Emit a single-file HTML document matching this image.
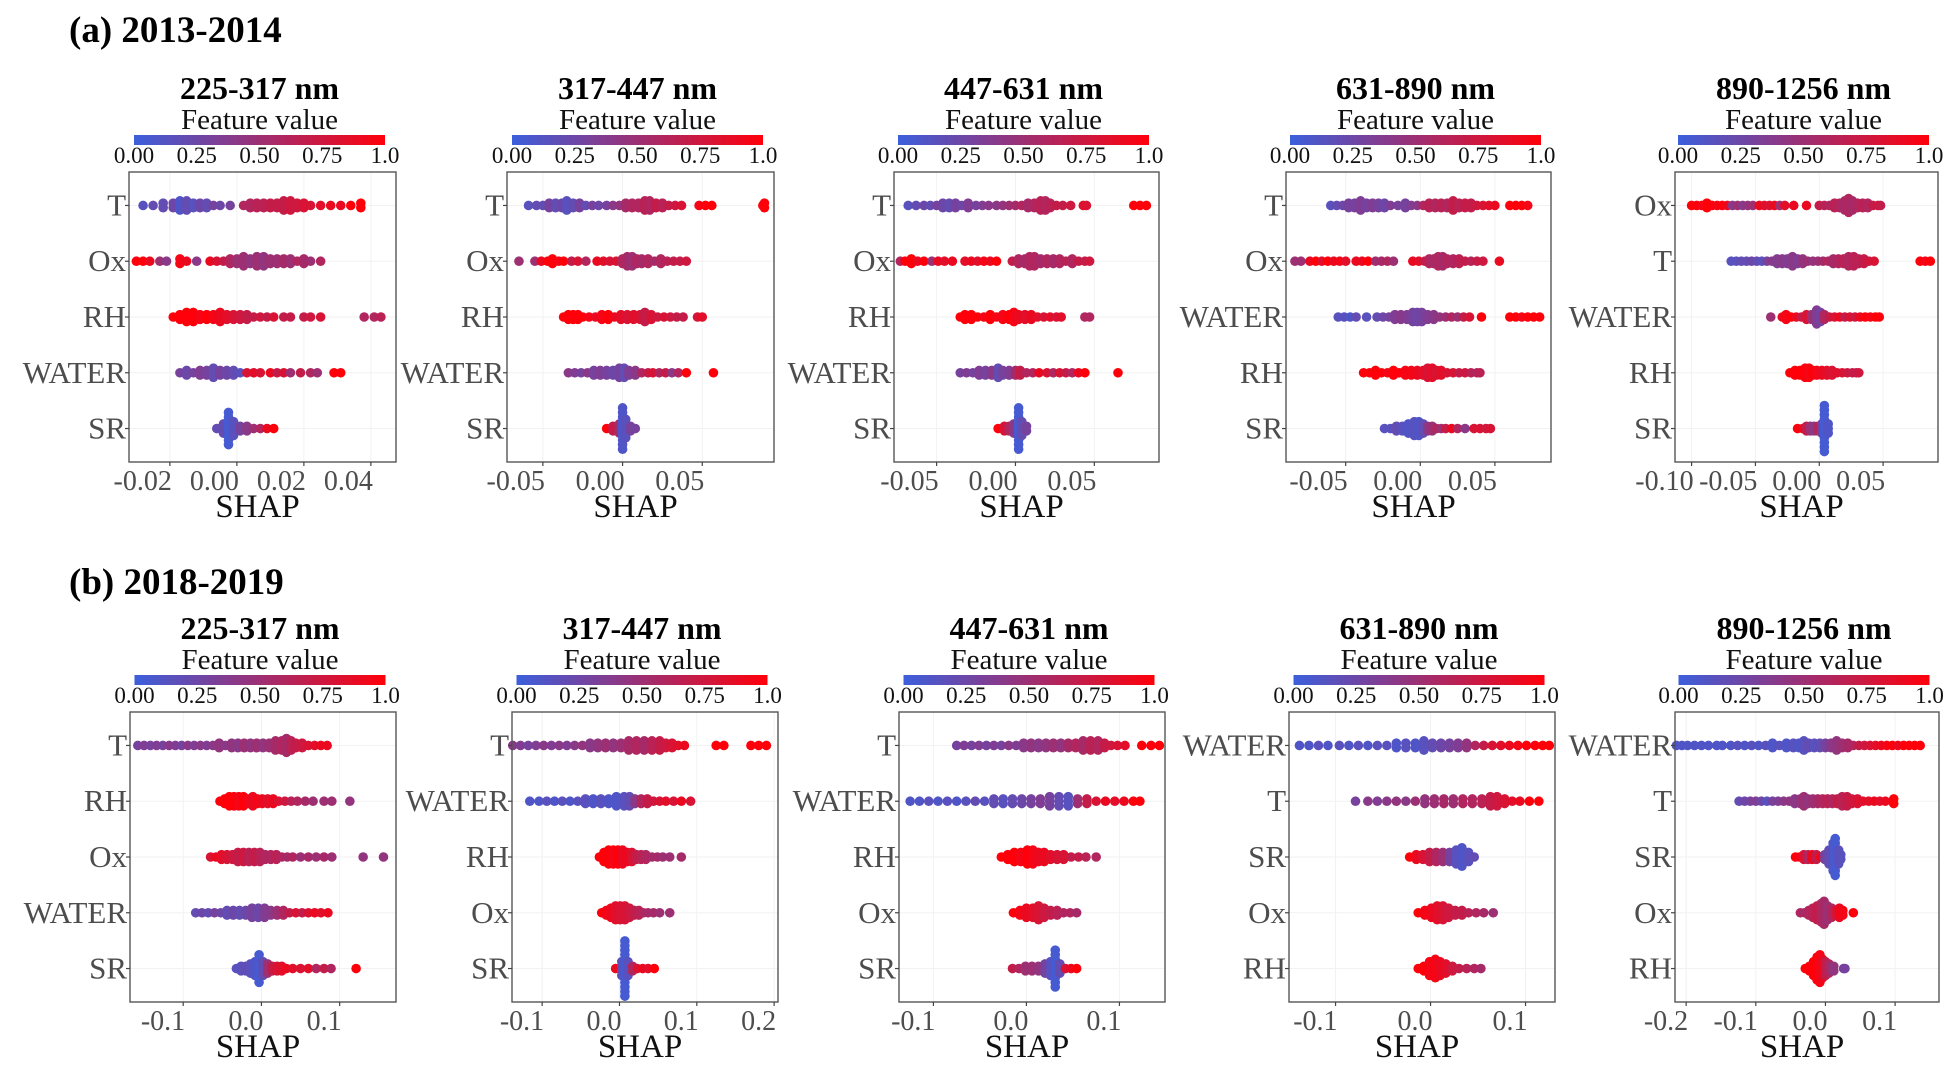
<!DOCTYPE html>
<html><head><meta charset="utf-8">
<style>
html,body{margin:0;padding:0;background:#fff;}
svg{display:block;font-family:"Liberation Serif",serif;}
</style></head>
<body>
<svg id="fig" width="1948" height="1070" viewBox="0 0 1948 1070" xmlns="http://www.w3.org/2000/svg">
<defs>
<linearGradient id="cbar" x1="0" x2="1" y1="0" y2="0">
<stop offset="0" stop-color="rgb(60,95,220)"/>
<stop offset="0.5" stop-color="rgb(157,47,115)"/>
<stop offset="1" stop-color="rgb(255,0,10)"/>
</linearGradient>
</defs>
<text x="69" y="42" font-size="37" font-weight="bold">(a) 2013-2014</text>
<text x="69" y="594" font-size="37" font-weight="bold">(b) 2018-2019</text>
</svg>
<script>
// ---- data: each entry = [SHAP value (x0.001), feature value (0-1), stacked dot count]
const a1_T=[[-28,.15,1],[-25,.2,1],[-22,.2,2],[-19,.25,2],[-17,.1,3],[-15,.2,3],[-13,.15,2],[-11,.25,2],[-9,.2,2],[-7,.3,1],[-5,.25,1],[-2,.3,1],[2,.6,1],[4,.6,2],[6,.65,2],[8,.65,2],[10,.7,2],[12,.7,2],[14,.7,3],[16,.75,3],[18,.75,2],[20,.8,2],[22,.8,1],[25,.85,1],[28,.9,1],[31,.9,1],[34,1,1],[37,1,2]];
const a1_Ox=[[-30,1,1],[-28,1,1],[-26,.9,1],[-23,.5,1],[-21,.4,1],[-17,.95,2],[-15,.9,1],[-12,.4,1],[-8,.9,1],[-6,.8,1],[-4,.7,1],[-2,.6,2],[0,.5,2],[2,.5,3],[4,.45,2],[6,.5,3],[8,.45,3],[10,.5,2],[12,.5,2],[14,.55,2],[16,.5,2],[18,.6,1],[20,.55,2],[22,.5,1],[25,.6,1]];
const a1_RH=[[-19,1,1],[-17,1,2],[-15,1,3],[-13,1,3],[-11,.95,2],[-9,1,2],[-7,.95,2],[-5,.9,3],[-3,.85,2],[-1,.8,2],[1,.75,2],[3,.7,2],[5,.7,1],[7,.75,1],[9,.7,1],[11,.8,1],[14,.7,1],[16,.7,1],[20,.7,1],[22,.75,1],[25,.8,1],[38,.6,1],[41,.6,1],[43,.65,1]];
const a1_WATER=[[-17,.3,1],[-15,.25,2],[-13,.3,1],[-11,.35,2],[-9,.3,2],[-7,.2,3],[-5,.3,2],[-3,.25,2],[-1,.2,2],[1,.15,1],[3,.8,1],[5,.85,1],[7,.8,1],[10,.9,1],[12,.7,1],[14,.8,1],[16,.5,1],[19,.7,1],[22,.6,1],[24,.5,1],[29,1,1],[31,1,1]];
const a1_SR=[[-6,.2,1],[-4,.2,3],[-2.5,.05,8],[-1,.15,4],[1,.3,2],[3,.4,2],[5,.5,1],[7,.6,1],[9,.9,1],[11,1,1]];

const a2_T=[[-59,.15,1],[-54,.2,1],[-50,.2,1],[-46,.3,2],[-42,.2,2],[-38,.25,2],[-35,.15,3],[-31,.2,2],[-27,.3,2],[-23,.2,1],[-19,.3,1],[-15,.25,1],[-10,.3,1],[-6,.4,1],[-2,.45,1],[2,.55,2],[6,.6,2],[10,.6,2],[14,.65,3],[17,.6,3],[21,.7,2],[25,.65,2],[29,.7,1],[33,.75,1],[37,.8,1],[48,.95,1],[52,1,1],[56,1,1],[88,1,1],[89,1,2]];
const a2_Ox=[[-65,.5,1],[-55,.5,1],[-51,.9,1],[-47,1,1],[-44,1,2],[-40,.95,1],[-37,1,1],[-32,.7,1],[-28,.8,1],[-23,.6,1],[-16,.9,1],[-12,.85,1],[-8,.8,1],[-4,.8,1],[0,.6,2],[3,.55,3],[6,.5,3],[9,.6,2],[12,.55,2],[16,.6,2],[20,.55,1],[24,.6,2],[28,.65,1],[32,.7,1],[36,.7,1],[40,.75,1]];
const a2_RH=[[-37,1,1],[-34,1,2],[-31,1,2],[-28,1,2],[-25,1,1],[-21,.95,1],[-17,.9,1],[-13,.95,2],[-9,1,2],[-5,.9,1],[-1,.85,2],[3,.8,2],[7,.85,2],[11,.8,2],[14,.7,3],[18,.8,2],[22,.75,1],[26,.8,1],[30,.75,1],[34,.7,1],[38,.7,1],[47,.8,1],[50,.85,1]];
const a2_WATER=[[-34,.4,1],[-30,.35,1],[-26,.3,1],[-22,.4,1],[-18,.3,2],[-14,.35,2],[-10,.3,2],[-6,.25,2],[-2,.3,3],[1,.2,3],[4,.35,2],[8,.4,2],[12,.6,1],[16,.7,1],[19,.8,1],[23,.6,1],[27,.7,1],[31,.4,1],[35,.6,1],[40,1,1],[57,1,1]];
const a2_SR=[[-10,1,1],[-6,.7,2],[-2,.5,3],[0,.1,10],[2,.15,5],[5,.3,2],[8,.3,1]];

const a3_T=[[-68,.15,1],[-63,.2,1],[-58,.25,1],[-54,.2,1],[-50,.3,1],[-46,.25,2],[-42,.2,2],[-38,.3,2],[-34,.25,1],[-30,.35,2],[-25,.3,1],[-21,.35,1],[-17,.4,1],[-12,.4,1],[-8,.45,1],[-4,.5,1],[0,.55,1],[4,.6,1],[8,.55,2],[12,.6,2],[16,.65,3],[19,.6,3],[22,.65,2],[26,.7,1],[30,.7,1],[35,.75,1],[43,.85,1],[45,.8,1],[75,1,1],[79,1,1],[83,1,1]];
const a3_Ox=[[-73,.6,1],[-70,1,1],[-66,1,2],[-62,.9,1],[-58,1,1],[-53,.5,1],[-49,.9,1],[-45,.85,1],[-40,.9,1],[-32,.85,1],[-28,.9,1],[-24,.85,1],[-20,.95,1],[-16,.9,1],[-12,1,1],[-2,.7,1],[2,.6,2],[6,.55,2],[9,.6,3],[12,.6,3],[16,.55,2],[20,.6,2],[24,.55,2],[28,.6,2],[32,.65,1],[36,.6,2],[40,.7,1],[44,.7,1],[47,.75,1]];
const a3_RH=[[-35,1,1],[-32,1,2],[-28,1,2],[-24,1,1],[-20,.95,1],[-16,1,2],[-12,.95,1],[-8,.95,2],[-4,1,2],[-1,.95,3],[2,.9,2],[6,.85,2],[10,.9,2],[14,.85,1],[18,.8,1],[22,.85,1],[26,.8,1],[29,.85,1],[44,.6,1],[47,.6,1]];
const a3_WATER=[[-35,.3,1],[-31,.35,1],[-27,.3,1],[-23,.35,2],[-19,.3,2],[-15,.4,2],[-11,.2,3],[-8,.3,2],[-4,.35,2],[0,.55,2],[3,.7,2],[7,.6,1],[11,.6,1],[15,.9,1],[20,.8,1],[24,.6,1],[28,.8,1],[32,.7,1],[36,.6,1],[40,.9,1],[44,1,1],[65,1,1]];
const a3_SR=[[-11,1,1],[-7,.8,2],[-4,.6,2],[-1,.4,3],[2,.05,10],[4,.2,4],[7,.3,2]];

const a4_T=[[-60,.15,1],[-56,.2,1],[-52,.25,1],[-48,.3,2],[-44,.3,2],[-40,.35,3],[-36,.3,2],[-32,.35,2],[-28,.3,2],[-24,.25,2],[-20,.35,1],[-15,.3,1],[-10,.3,2],[-6,.35,1],[-2,.4,1],[2,.6,1],[6,.65,2],[10,.6,2],[14,.65,2],[18,.6,2],[22,.7,3],[26,.65,2],[30,.7,2],[34,.7,2],[38,.75,1],[42,.8,1],[46,.85,1],[50,.9,1],[60,1,1],[64,1,1],[68,1,1],[72,.95,1]];
const a4_Ox=[[-84,.5,1],[-80,.5,1],[-74,.9,1],[-70,1,1],[-66,.85,1],[-62,1,1],[-58,.9,1],[-54,.95,1],[-50,.85,1],[-43,.9,1],[-39,.9,1],[-35,1,1],[-30,.5,1],[-26,.55,1],[-22,.6,1],[-18,.5,1],[-5,.9,1],[-1,.85,1],[3,.7,1],[6,.6,2],[9,.55,2],[12,.6,3],[15,.55,3],[18,.6,2],[22,.6,2],[26,.65,2],[30,.7,1],[34,.65,1],[38,.7,1],[42,.75,1],[53,.9,1]];
const a4_WATER=[[-55,.15,1],[-51,.15,1],[-47,.1,1],[-43,.2,1],[-36,.15,1],[-29,.2,1],[-25,.25,1],[-21,.3,1],[-17,.35,2],[-13,.4,2],[-9,.35,2],[-5,.3,3],[-2,.25,3],[1,.3,3],[5,.35,2],[9,.4,2],[13,.45,1],[17,.5,1],[21,.6,1],[25,.5,1],[29,.7,1],[33,.8,1],[41,1,1],[60,1,1],[64,1,1],[68,.95,1],[72,1,1],[76,1,1],[80,1,1]];
const a4_RH=[[-38,1,1],[-34,1,1],[-30,1,2],[-26,1,1],[-22,.95,1],[-18,1,2],[-14,1,1],[-10,.95,2],[-6,.95,2],[-2,.9,2],[2,.85,2],[5,.8,3],[8,.85,3],[11,.8,2],[14,.85,2],[18,.8,1],[22,.8,1],[26,.7,1],[30,.75,1],[34,.65,1],[38,.6,1],[40,.65,1]];
const a4_SR=[[-24,.15,1],[-20,.15,1],[-16,.2,2],[-12,.15,2],[-8,.1,3],[-4,.15,4],[-1,.1,4],[2,.2,3],[5,.4,2],[8,.5,2],[11,.6,1],[14,.5,1],[17,.7,1],[21,.9,1],[25,.6,1],[30,.4,1],[36,.8,1],[40,.8,1],[44,.75,1],[47,.8,1]];

const a5_Ox=[[-100,1,1],[-96,1,1],[-92,.95,1],[-88,1,2],[-84,1,1],[-80,.95,1],[-76,1,1],[-72,.9,1],[-68,.4,1],[-64,.5,1],[-60,.4,1],[-56,.45,1],[-52,.5,1],[-47,.9,1],[-43,.85,1],[-39,.8,1],[-35,.9,1],[-31,.5,1],[-27,.85,1],[-20,.9,1],[-10,.9,1],[0,.7,1],[4,.65,1],[8,.6,1],[12,.65,2],[16,.6,2],[20,.55,3],[23,.6,4],[26,.55,3],[30,.6,2],[34,.65,2],[38,.6,2],[42,.7,1],[46,.75,1],[48,.7,1]];
const a5_T=[[-69,.15,1],[-65,.15,1],[-61,.2,1],[-57,.2,1],[-53,.25,1],[-49,.2,1],[-45,.15,1],[-41,.3,1],[-37,.4,1],[-33,.35,2],[-29,.4,2],[-25,.35,2],[-21,.4,3],[-17,.35,2],[-13,.45,2],[-9,.5,1],[-5,.45,1],[-1,.5,1],[3,.55,1],[7,.6,1],[11,.55,2],[15,.6,2],[19,.65,2],[23,.6,3],[27,.65,3],[31,.65,2],[35,.7,2],[39,.75,1],[43,.8,1],[79,1,1],[83,.95,1],[87,1,1]];
const a5_WATER=[[-38,.5,1],[-29,.9,1],[-26,.95,2],[-22,1,1],[-18,.9,1],[-14,.7,1],[-10,.8,2],[-6,.5,2],[-2,.35,4],[1,.3,3],[4,.6,2],[8,.7,1],[12,.8,1],[16,.9,1],[20,.7,1],[24,.8,1],[28,.75,1],[32,.9,1],[36,1,1],[40,.95,1],[44,1,1],[47,1,1]];
const a5_RH=[[-23,1,1],[-19,1,2],[-15,1,2],[-11,1,3],[-8,.95,3],[-5,1,2],[-2,.95,2],[2,.9,2],[6,.85,2],[10,.8,2],[14,.85,1],[18,.8,1],[22,.75,1],[26,.7,1],[29,.7,1],[31,.75,1]];
const a5_SR=[[-17,1,1],[-13,.9,1],[-10,.7,2],[-7,.5,2],[-4,.4,2],[-1,.6,2],[2,.3,3],[4,.05,11],[7,.1,3]];

const b1_T=[[-158,.3,1],[-150,.35,1],[-142,.3,1],[-134,.35,1],[-126,.3,1],[-118,.4,1],[-110,.35,1],[-102,.3,1],[-94,.4,1],[-86,.35,1],[-78,.4,1],[-70,.35,1],[-62,.4,1],[-54,.45,2],[-46,.4,1],[-38,.45,2],[-30,.4,2],[-22,.5,2],[-14,.45,2],[-6,.5,2],[2,.45,2],[10,.5,2],[18,.55,3],[26,.6,3],[32,.55,4],[38,.65,3],[44,.7,2],[52,.75,2],[60,.8,1],[68,.85,1],[76,.9,1],[84,.9,1]];
const b1_RH=[[-53,1,1],[-47,1,2],[-41,1,3],[-35,1,3],[-29,.95,3],[-23,1,3],[-17,.95,2],[-11,.9,3],[-5,.95,2],[1,.9,2],[8,.85,2],[15,.9,2],[22,.8,1],[30,.75,1],[38,.65,1],[46,.6,1],[56,.55,1],[66,.5,1],[80,.5,1],[90,.5,1],[113,.45,1]];
const b1_Ox=[[-65,.8,1],[-58,.9,1],[-51,.85,2],[-44,.8,2],[-37,.75,2],[-30,.7,3],[-23,.75,3],[-16,.65,3],[-9,.7,3],[-2,.65,3],[5,.6,2],[12,.6,2],[19,.65,2],[26,.6,1],[33,.55,1],[40,.6,1],[50,.5,1],[60,.55,1],[70,.5,1],[80,.55,1],[90,.5,1],[130,.45,1],[156,.45,1]];
const b1_WATER=[[-84,.2,1],[-76,.25,1],[-68,.2,1],[-60,.3,1],[-52,.25,1],[-44,.2,2],[-36,.25,2],[-28,.2,2],[-20,.25,2],[-12,.3,3],[-4,.25,3],[4,.35,3],[12,.4,2],[20,.5,2],[28,.6,2],[36,.7,1],[44,.8,1],[52,.7,1],[60,.8,1],[68,.9,1],[76,.85,1],[85,.9,1]];
const b1_SR=[[-32,.15,1],[-26,.15,2],[-20,.2,2],[-14,.15,3],[-8,.1,4],[-3,.05,7],[2,.2,4],[8,.5,3],[14,.7,2],[20,.8,2],[26,.85,2],[32,.9,1],[40,.85,1],[50,.8,1],[60,.85,1],[70,.6,1],[80,.7,1],[89,.6,1],[121,1,1]];

const b2_T=[[-138,.4,1],[-128,.35,1],[-118,.3,1],[-108,.35,1],[-98,.4,1],[-88,.35,1],[-78,.4,1],[-68,.35,1],[-58,.4,1],[-48,.45,1],[-38,.4,2],[-28,.45,2],[-18,.5,2],[-8,.45,2],[2,.5,2],[12,.55,3],[22,.6,3],[32,.55,3],[42,.65,3],[52,.7,3],[60,.75,2],[68,.8,2],[76,.85,1],[84,.9,1],[125,1,1],[135,1,1],[170,1,1],[180,1,1],[190,1,1]];
const b2_WATER=[[-116,.1,1],[-104,.1,1],[-94,.15,1],[-84,.1,1],[-74,.15,1],[-64,.1,1],[-54,.15,1],[-44,.15,2],[-34,.1,2],[-24,.15,2],[-14,.1,2],[-4,.1,3],[6,.15,3],[13,.2,3],[20,.4,2],[28,.6,2],[36,.7,2],[44,.75,1],[52,.8,1],[60,.85,1],[70,.8,1],[80,.9,1],[92,.8,1]];
const b2_RH=[[-26,1,1],[-20,1,3],[-14,1,4],[-8,.95,4],[-2,1,4],[4,.9,4],[10,.9,3],[16,.8,3],[22,.7,2],[28,.65,2],[34,.6,2],[42,.55,1],[49,.55,1],[56,.5,1],[65,.5,1],[80,.55,1]];
const b2_Ox=[[-23,1,1],[-17,.95,2],[-11,.9,3],[-5,.85,4],[1,.8,4],[7,.8,4],[13,.75,3],[19,.7,2],[25,.65,2],[31,.6,1],[37,.55,1],[44,.55,1],[52,.5,1],[65,.5,1]];
const b2_SR=[[-5,.9,1],[3,.2,4],[7,.05,13],[11,.15,4],[17,.6,2],[23,.8,1],[30,.9,1],[37,.85,1],[45,1,1]];

const b3_T=[[-75,.3,1],[-67,.35,1],[-59,.3,1],[-51,.35,1],[-43,.3,1],[-35,.35,1],[-27,.3,1],[-19,.4,1],[-11,.35,1],[-3,.4,2],[5,.45,2],[13,.4,2],[21,.45,2],[29,.5,2],[37,.45,2],[45,.55,2],[53,.6,2],[61,.55,3],[69,.65,3],[77,.6,3],[84,.7,2],[91,.75,1],[98,.8,1],[106,.85,1],[124,1,1],[134,1,1],[143,1,1]];
const b3_WATER=[[-125,.1,1],[-115,.1,1],[-105,.15,1],[-95,.1,1],[-85,.15,1],[-75,.1,1],[-65,.15,1],[-55,.2,1],[-45,.15,1],[-35,.2,2],[-25,.15,2],[-15,.2,2],[-5,.25,2],[5,.3,2],[15,.35,2],[25,.3,3],[35,.2,3],[45,.15,3],[55,.5,2],[65,.7,2],[75,.8,1],[85,.9,1],[95,.85,1],[105,.9,1],[115,1,1],[122,1,1]];
const b3_RH=[[-27,1,1],[-20,1,2],[-13,1,3],[-6,.95,3],[1,1,4],[7,.95,4],[13,.9,3],[19,.9,3],[26,.85,2],[33,.8,2],[40,.8,2],[48,.7,1],[56,.7,1],[64,.65,1],[75,.6,1]];
const b3_Ox=[[-14,1,1],[-7,.95,2],[0,.9,3],[7,.85,3],[13,.8,4],[19,.75,3],[26,.7,2],[33,.65,2],[40,.6,1],[47,.6,1],[54,.55,1]];
const b3_SR=[[-15,.7,1],[-8,.6,1],[-1,.5,2],[6,.5,2],[13,.45,2],[20,.3,3],[26,.15,4],[31,.05,9],[36,.2,3],[42,.8,1],[48,.9,1],[54,1,1]];

const b4_WATER=[[-138,.1,1],[-128,.1,1],[-118,.15,1],[-108,.1,1],[-96,.15,1],[-86,.1,1],[-76,.15,1],[-66,.1,1],[-56,.15,1],[-46,.15,1],[-36,.1,2],[-26,.15,2],[-16,.1,2],[-7,.15,3],[2,.2,2],[11,.25,2],[20,.3,2],[29,.35,2],[38,.45,2],[47,.6,1],[56,.7,1],[65,.8,1],[74,.85,1],[83,.9,1],[92,.95,1],[101,1,1],[110,1,1],[118,1,1],[125,1,1]];
const b4_T=[[-79,.3,1],[-66,.4,1],[-56,.35,1],[-46,.4,1],[-36,.45,1],[-26,.4,1],[-16,.5,1],[-6,.45,2],[4,.5,2],[14,.55,2],[24,.5,2],[34,.6,2],[44,.6,2],[54,.65,2],[63,.7,3],[70,.75,3],[78,.8,2],[86,.85,1],[94,.9,1],[104,1,1],[114,1,1]];
const b4_SR=[[-22,1,1],[-15,.9,2],[-8,.8,2],[-1,.7,3],[6,.6,3],[13,.5,3],[20,.3,3],[27,.15,4],[33,.1,5],[40,.15,3],[46,.2,1]];
const b4_Ox=[[-13,1,1],[-6,.95,2],[1,.9,3],[7,.85,4],[13,.8,4],[19,.75,3],[26,.7,2],[33,.7,2],[40,.65,1],[48,.6,1],[56,.55,1],[66,.5,1]];
const b4_RH=[[-13,1,1],[-7,1,2],[-1,.95,4],[5,.95,5],[10,.9,4],[16,.85,3],[23,.75,2],[30,.7,1],[38,.65,1],[46,.6,1],[53,.55,1]];

const b5_WATER=[[-214,.1,1],[-206,.1,1],[-198,.1,1],[-188,.1,1],[-178,.1,1],[-168,.1,1],[-156,.1,1],[-148,.1,1],[-136,.1,1],[-126,.15,1],[-116,.1,1],[-106,.15,1],[-96,.1,1],[-86,.15,1],[-76,.1,2],[-66,.15,1],[-56,.1,2],[-46,.15,2],[-38,.1,2],[-31,.15,3],[-24,.2,2],[-16,.15,2],[-8,.2,2],[0,.3,2],[8,.4,2],[16,.45,3],[24,.5,2],[32,.55,2],[40,.6,1],[48,.7,1],[56,.75,1],[64,.8,1],[72,.85,1],[80,.9,1],[88,.95,1],[96,1,1],[104,.9,1],[112,1,1],[120,1,1],[128,1,1],[136,1,1]];
const b5_T=[[-124,.2,1],[-116,.25,1],[-108,.3,1],[-100,.35,1],[-92,.25,1],[-84,.15,1],[-76,.3,1],[-68,.35,1],[-60,.4,1],[-52,.45,1],[-44,.4,2],[-36,.45,2],[-31,.5,3],[-25,.45,2],[-18,.5,2],[-11,.55,2],[-4,.6,2],[3,.65,2],[10,.6,2],[17,.7,2],[24,.65,3],[31,.7,3],[38,.75,2],[46,.8,2],[54,.85,1],[62,.85,1],[70,.9,1],[78,.85,1],[86,.9,1],[98,1,2]];
const b5_SR=[[-43,1,1],[-37,.95,1],[-31,.8,2],[-25,.6,2],[-19,.9,2],[-13,.7,2],[-7,.9,1],[-1,.3,2],[5,.2,4],[11,.1,7],[14,.05,9],[19,.15,4],[22,.15,2]];
const b5_Ox=[[-36,.6,1],[-30,.55,1],[-24,.6,2],[-18,.65,3],[-12,.7,4],[-6,.6,5],[-2,.55,6],[3,.5,4],[9,.6,3],[15,.8,2],[20,.9,3],[25,.95,2],[40,1,1]];
const b5_RH=[[-29,1,1],[-23,1,2],[-17,1,4],[-12,1,6],[-8,.95,7],[-4,.9,5],[0,.7,4],[5,.6,3],[9,.5,2],[12,.45,2],[26,.3,1],[28,.3,1]];

// ---- categories (features, top to bottom) and panel titles
const titlesRow = ["225-317 nm","317-447 nm","447-631 nm","631-890 nm","890-1256 nm"];
const featA = [["T","Ox","RH","WATER","SR"],["T","Ox","RH","WATER","SR"],["T","Ox","RH","WATER","SR"],["T","Ox","WATER","RH","SR"],["Ox","T","WATER","RH","SR"]];
const featB = [["T","RH","Ox","WATER","SR"],["T","WATER","RH","Ox","SR"],["T","WATER","RH","Ox","SR"],["WATER","T","SR","Ox","RH"],["WATER","T","SR","Ox","RH"]];
const rowsA = [[a1_T,a1_Ox,a1_RH,a1_WATER,a1_SR],[a2_T,a2_Ox,a2_RH,a2_WATER,a2_SR],[a3_T,a3_Ox,a3_RH,a3_WATER,a3_SR],[a4_T,a4_Ox,a4_WATER,a4_RH,a4_SR],[a5_Ox,a5_T,a5_WATER,a5_RH,a5_SR]];
const rowsB = [[b1_T,b1_RH,b1_Ox,b1_WATER,b1_SR],[b2_T,b2_WATER,b2_RH,b2_Ox,b2_SR],[b3_T,b3_WATER,b3_RH,b3_Ox,b3_SR],[b4_WATER,b4_T,b4_SR,b4_Ox,b4_RH],[b5_WATER,b5_T,b5_SR,b5_Ox,b5_RH]];
// ---- tick values
const ticksA = [[-0.02,0,0.02,0.04],[-0.05,0,0.05],[-0.05,0,0.05],[-0.05,0,0.05],[-0.10,-0.05,0,0.05]];
const tickLabA = [["-0.02","0.00","0.02","0.04"],["-0.05","0.00","0.05"],["-0.05","0.00","0.05"],["-0.05","0.00","0.05"],["-0.10","-0.05","0.00","0.05"]];
const ticksB = [[-0.1,0,0.1],[-0.1,0,0.1,0.2],[-0.1,0,0.1],[-0.1,0,0.1],[-0.2,-0.1,0,0.1]];
const tickLabB = [["-0.1","0.0","0.1"],["-0.1","0.0","0.1","0.2"],["-0.1","0.0","0.1"],["-0.1","0.0","0.1"],["-0.2","-0.1","0.0","0.1"]];
const domainsA = [[-0.0322,0.0475],[-0.0725,0.095],[-0.077,0.091],[-0.090,0.0876],[-0.113,0.093]];
const domainsB = [[-0.168,0.172],[-0.139,0.205],[-0.137,0.149],[-0.149,0.131],[-0.216,0.163]];
const cbTicks = [0,0.25,0.5,0.75,1];
const cbLabels = ["0.00","0.25","0.50","0.75","1.0"];

// ---- layout (geometry)
const boxesA = [[129,396],[507,774],[894,1159],[1286,1551],[1675,1938]];
const boxesB = [[130,396],[512,778],[899,1165],[1289,1555],[1675,1939]];
const NS="http://www.w3.org/2000/svg";
const svg=document.getElementById('fig');
function mk(tag,attrs,parent){const e=document.createElementNS(NS,tag);for(const k in attrs)e.setAttribute(k,attrs[k]);(parent||svg).appendChild(e);return e;}
function colorOf(v){
  const a=[60,95,220],m=[157,47,115],b=[255,0,10];
  let c;
  if(v<=0.5){const t=v/0.5;c=a.map((x,i)=>Math.round(x+(m[i]-x)*t));}
  else{const t=(v-0.5)/0.5;c=m.map((x,i)=>Math.round(x+(b[i]-x)*t));}
  return 'rgb('+c.join(',')+')';
}
function panel(idx,row,box,dom,feats,rows,ticks,tlabs,top,prefix){
  const g=mk('g',{});
  
  
  const x0=box[0],x1=box[1],y0=top,y1=top+290;
  const sx=v=>x0+(v-dom[0])/(dom[1]-dom[0])*(x1-x0);
  const unit=(y1-y0)/5.2;
  const sy=i=>y0+(0.6+i)*unit;
  const cx=(x0+x1)/2-3;
  const t=mk('text',{x:cx,y:top-73,'font-size':32,'font-weight':'bold','text-anchor':'middle'},g);
  t.textContent=titlesRow[idx];
  
  
  const fv=mk('text',{x:cx,y:top-43,'font-size':29,'text-anchor':'middle',fill:'#111'},g);
  fv.textContent='Feature value';
  
  
  const cbw=251,cbx=cx-cbw/2;
  const cb=mk('rect',{x:cbx,y:top-37,width:cbw,height:10,fill:'url(#cbar)'},g);
  
  
  cbTicks.forEach((v,i)=>{
    const l=mk('text',{x:cbx+v*cbw,y:top-9,'font-size':23,'text-anchor':'middle',fill:'#111'},g);
    l.textContent=cbLabels[i];
    
    
  });
  ticks.forEach(v=>{mk('line',{x1:sx(v),x2:sx(v),y1:y0,y2:y1,stroke:'#f2f2f2','stroke-width':1},g);});
  feats.forEach((f,i)=>{mk('line',{x1:x0,x2:x1,y1:sy(i),y2:sy(i),stroke:'#f2f2f2','stroke-width':1},g);});
  rows.forEach((r,i)=>{
    const yc=sy(i);
    r.forEach(p=>{
      const n=p[2];
      for(let k=0;k<n;k++){
        const off=(k-(n-1)/2)*4.6;
        const c=mk('circle',{cx:sx(p[0]/1000),cy:yc+off,r:4.8,fill:colorOf(p[1])},g);
        
        
      }
    });
  });
  const fr=mk('rect',{x:x0,y:y0,width:x1-x0,height:y1-y0,fill:'none',stroke:'#555','stroke-width':1.4},g);
  
  
  feats.forEach((f,i)=>{
    mk('line',{x1:x0-4,x2:x0,y1:sy(i),y2:sy(i),stroke:'#444','stroke-width':1.2},g);
    const l=mk('text',{x:x0-3,y:sy(i)+10,'font-size':31,'text-anchor':'end',fill:'#4d4d4d'},g);
    l.textContent=f;
    
    
  });
  ticks.forEach((v,i)=>{
    mk('line',{x1:sx(v),x2:sx(v),y1:y1,y2:y1+4,stroke:'#444','stroke-width':1.2},g);
    const l=mk('text',{x:sx(v)+2,y:y1+28,'font-size':28,'text-anchor':'end',fill:'#4d4d4d'},g);
    l.textContent=tlabs[i];
    
    
  });
  const xl=mk('text',{x:(x0+x1)/2-5,y:y1+55,'font-size':33,'text-anchor':'middle',fill:'#111'},g);
  xl.textContent='SHAP';
  
  
}
for(let i=0;i<5;i++){
  panel(i,0,boxesA[i],domainsA[i],featA[i],rowsA[i],ticksA[i],tickLabA[i],172,'a');
  panel(i,1,boxesB[i],domainsB[i],featB[i],rowsB[i],ticksB[i],tickLabB[i],712,'b');
}
</script>
</body></html>
